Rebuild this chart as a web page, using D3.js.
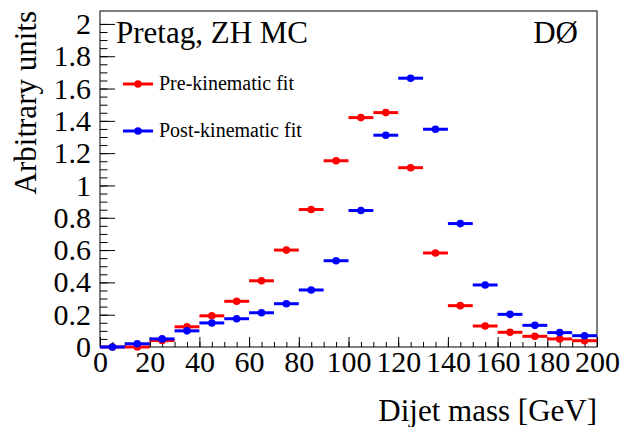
<!DOCTYPE html>
<html>
<head>
<meta charset="utf-8">
<script src="https://cdn.jsdelivr.net/npm/d3@7"></script>
<style>
  html, body { margin: 0; padding: 0; background: #fff; }
  svg { display: block; font-family: "Liberation Serif", "Times New Roman", serif; }
</style>
</head>
<body>
<div id="chart"></div>
<script>
// bin centres of the dijet mass histogram (GeV), 10 GeV wide bins
const binCentres = [5, 15, 25, 35, 45, 55, 65, 75, 85, 95, 105, 115, 125, 135, 145, 155, 165, 175, 185, 195];
const preFit  = [0.0, 0.0, 0.04, 0.125, 0.193, 0.283, 0.41, 0.60, 0.851, 1.153, 1.42, 1.451, 1.11, 0.582, 0.256, 0.13, 0.091, 0.066, 0.05, 0.039];
const postFit = [0.0, 0.02, 0.05, 0.10, 0.149, 0.175, 0.212, 0.268, 0.353, 0.534, 0.845, 1.311, 1.664, 1.348, 0.764, 0.384, 0.202, 0.134, 0.089, 0.07];
const xTicks = [0, 20, 40, 60, 80, 100, 120, 140, 160, 180, 200];
const yTicks = [0, 0.2, 0.4, 0.6, 0.8, 1, 1.2, 1.4, 1.6, 1.8, 2];
const series = [
  { nome: "Pre-kinematic fit", valores: preFit, cor: "#ff0000" },
  { nome: "Post-kinematic fit", valores: postFit, cor: "#0000ff" }
];
const binWidth = 10;

const largura = 636, altura = 427;
const margem = { top: 11, right: 39, bottom: 80, left: 100 };

const svg = d3.select("#chart").append("svg")
  .attr("width", largura).attr("height", altura);

const x = d3.scaleLinear().domain([0, 200]).range([margem.left, largura - margem.right]);
const y = d3.scaleLinear().domain([0, 2.08]).range([altura - margem.bottom, margem.top]);

const fmt = d => d3.format("~g")(d);

// minor ticks first, then major ones with labels
svg.append("g")
  .attr("transform", `translate(0,${y(0)})`)
  .call(d3.axisBottom(x).tickValues(d3.range(0, 201, 5)).tickSize(-5).tickFormat(""))
  .call(g => g.select(".domain").remove());
svg.append("g")
  .attr("transform", `translate(0,${y(0)})`)
  .call(d3.axisBottom(x).tickValues(xTicks).tickSize(-10).tickPadding(4).tickFormat(fmt))
  .call(g => g.select(".domain").remove())
  .call(g => g.selectAll("text").attr("font-size", 30).attr("font-family", "Liberation Serif").attr("fill", "#000"));

svg.append("g")
  .attr("transform", `translate(${x(0)},0)`)
  .call(d3.axisLeft(y).tickValues(d3.range(0, 41).map(i => i * 0.05)).tickSize(-7.5).tickFormat(""))
  .call(g => g.select(".domain").remove());
svg.append("g")
  .attr("transform", `translate(${x(0)},0)`)
  .call(d3.axisLeft(y).tickValues(yTicks).tickSize(-15).tickPadding(9).tickFormat(fmt))
  .call(g => g.select(".domain").remove())
  .call(g => g.selectAll("text").attr("font-size", 30).attr("font-family", "Liberation Serif").attr("fill", "#000"));

// frame
svg.append("rect")
  .attr("x", x(0)).attr("y", y(2.08))
  .attr("width", x(200) - x(0)).attr("height", y(0) - y(2.08))
  .attr("fill", "none").attr("stroke", "#000").attr("stroke-width", 1);

// data points: horizontal bin bars + markers (blue drawn on top)
series.forEach(s => {
  const g = svg.append("g");
  g.selectAll("line").data(binCentres).enter().append("line")
    .attr("x1", (d) => x(d - binWidth / 2))
    .attr("x2", (d) => x(d + binWidth / 2))
    .attr("y1", (d, i) => y(s.valores[i]))
    .attr("y2", (d, i) => y(s.valores[i]))
    .attr("stroke", s.cor).attr("stroke-width", 3);
  g.selectAll("circle").data(binCentres).enter().append("circle")
    .attr("cx", d => x(d))
    .attr("cy", (d, i) => y(s.valores[i]))
    .attr("r", 3.8)
    .attr("fill", s.cor);
});

// legend
series.forEach((s, i) => {
  const ly = 84 + i * 47;
  svg.append("line").attr("x1", 123).attr("x2", 153).attr("y1", ly).attr("y2", ly)
    .attr("stroke", s.cor).attr("stroke-width", 3);
  svg.append("circle").attr("cx", 138).attr("cy", ly).attr("r", 3.8).attr("fill", s.cor);
  svg.append("text").attr("x", 159).attr("y", ly + 6)
    .attr("font-size", 20).text(s.nome);
});

// labels
svg.append("text").attr("x", 116).attr("y", 43).attr("font-size", 31).text("Pretag, ZH MC");
svg.append("text").attr("x", 578).attr("y", 43).attr("font-size", 31).attr("text-anchor", "end").text("DØ");

svg.append("text")
  .attr("x", x(200)).attr("y", 421)
  .attr("text-anchor", "end").attr("font-size", 31)
  .text("Dijet mass [GeV]");

svg.append("text")
  .attr("transform", `translate(36,${margem.top}) rotate(-90)`)
  .attr("text-anchor", "end").attr("font-size", 31)
  .text("Arbitrary units");
</script>
</body>
</html>
